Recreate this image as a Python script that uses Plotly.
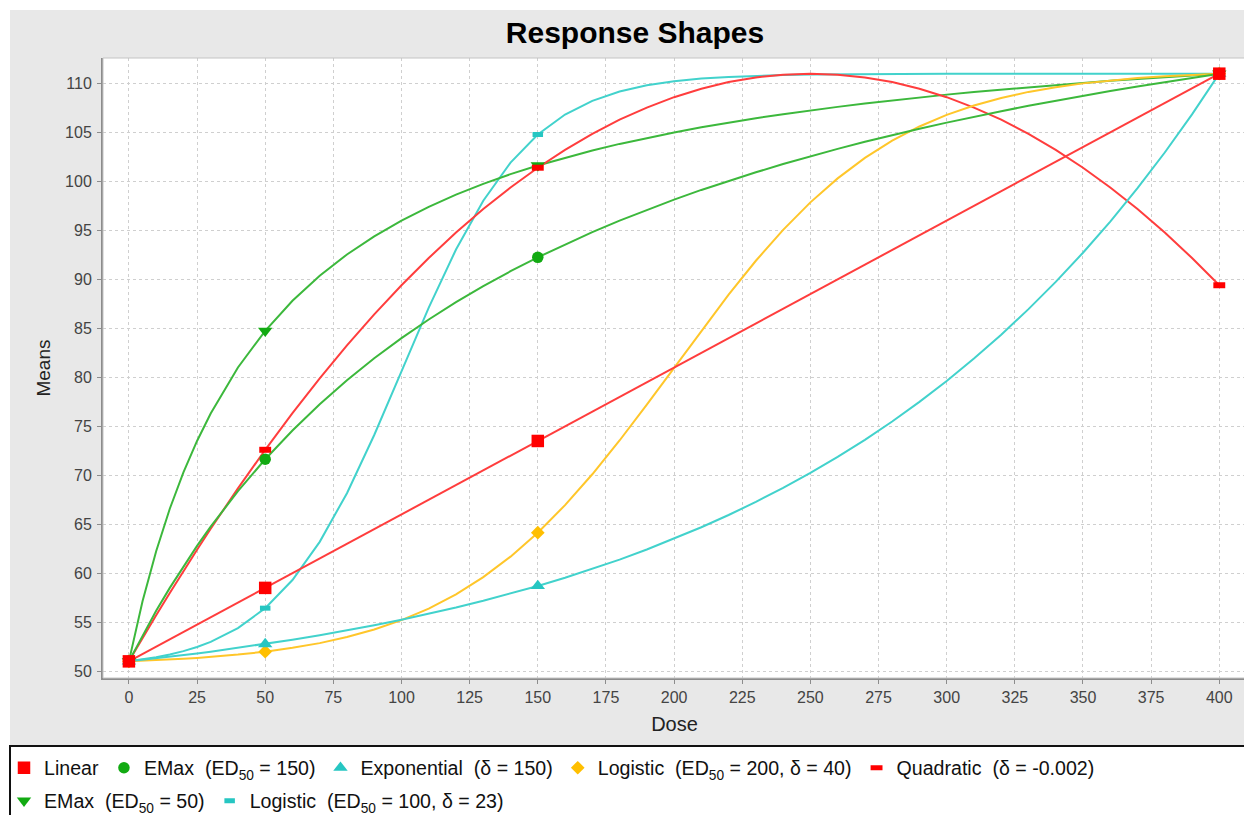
import plotly.graph_objects as go

# ---------------- data ----------------
dose = [0, 5, 10, 15, 20, 25, 30, 40, 50, 60, 70, 80, 90, 100, 110, 120, 130, 140, 150,
        160, 170, 180, 190, 200, 210, 220, 230, 240, 250, 260, 270, 280, 290, 300,
        310, 320, 330, 340, 350, 360, 370, 380, 390, 400]

linear = [51.0, 51.75, 52.5, 53.25, 54.0, 54.75, 55.5, 57.0, 58.5, 60.0, 61.5, 63.0, 64.5,
          66.0, 67.5, 69.0, 70.5, 72.0, 73.5, 75.0, 76.5, 78.0, 79.5, 81.0, 82.5, 84.0,
          85.5, 87.0, 88.5, 90.0, 91.5, 93.0, 94.5, 96.0, 97.5, 99.0, 100.5, 102.0, 103.5,
          105.0, 106.5, 108.0, 109.5, 111.0]

emax150 = [51.0, 53.66, 56.16, 58.5, 60.71, 62.79, 64.75, 68.37, 71.63, 74.57, 77.25, 79.7,
           81.94, 84.0, 85.9, 87.67, 89.3, 90.83, 92.25, 93.58, 94.83, 96.0, 97.1, 98.14,
           99.13, 100.05, 100.93, 101.77, 102.56, 103.32, 104.04, 104.72, 105.38, 106.0,
           106.6, 107.17, 107.72, 108.24, 108.75, 109.24, 109.7, 110.15, 110.58, 111.0]

exponential = [51.0, 51.15, 51.31, 51.47, 51.64, 51.81, 51.99, 52.37, 52.77, 53.2, 53.66,
               54.16, 54.68, 55.25, 55.85, 56.49, 57.18, 57.91, 58.7, 59.54, 60.43, 61.39,
               62.42, 63.52, 64.69, 65.94, 67.28, 68.71, 70.24, 71.88, 73.62, 75.49, 77.49,
               79.62, 81.91, 84.35, 86.96, 89.74, 92.72, 95.9, 99.31, 102.95, 106.84, 111.0]

logistic200 = [51.0, 51.05, 51.11, 51.18, 51.26, 51.35, 51.45, 51.69, 51.99, 52.38, 52.86,
               53.48, 54.25, 55.21, 56.39, 57.84, 59.6, 61.69, 64.14, 66.95, 70.1, 73.55,
               77.22, 81.0, 84.78, 88.45, 91.9, 95.05, 97.86, 100.31, 102.4, 104.16, 105.61,
               106.79, 107.75, 108.52, 109.14, 109.62, 110.01, 110.31, 110.55, 110.74,
               110.89, 111.0]

quadratic = [51.0, 53.38, 55.7, 57.98, 60.22, 62.4, 64.54, 68.66, 72.6, 76.34, 79.9, 83.26,
             86.42, 89.4, 92.18, 94.78, 97.18, 99.38, 101.4, 103.22, 104.86, 106.3, 107.54,
             108.6, 109.46, 110.14, 110.62, 110.9, 111.0, 110.9, 110.62, 110.14, 109.46,
             108.6, 107.54, 106.3, 104.86, 103.22, 101.4, 99.38, 97.18, 94.78, 92.18, 89.4]

emax50 = [51.0, 57.14, 62.25, 66.58, 70.29, 73.5, 76.31, 81.0, 84.75, 87.82, 90.38, 92.54,
          94.39, 96.0, 97.41, 98.65, 99.75, 100.74, 101.63, 102.43, 103.16, 103.83, 104.44,
          105.0, 105.52, 106.0, 106.45, 106.86, 107.25, 107.61, 107.95, 108.27, 108.57,
          108.86, 109.13, 109.38, 109.62, 109.85, 110.06, 110.27, 110.46, 110.65, 110.83,
          111.0]

logistic100 = [51.0, 51.19, 51.41, 51.7, 52.04, 52.47, 52.99, 54.39, 56.43, 59.3, 63.2,
               68.17, 74.11, 80.61, 87.12, 93.05, 98.03, 101.92, 104.79, 106.83, 108.23,
               109.18, 109.81, 110.22, 110.5, 110.67, 110.79, 110.86, 110.91, 110.94, 110.96,
               110.98, 110.98, 110.99, 110.99, 110.99, 111.0, 111.0, 111.0, 111.0, 111.0,
               111.0, 111.0, 111.0]

design_doses = [0, 50, 150, 400]

series_names = [
    "Linear",
    "EMax\u00a0 (ED<sub>50</sub> = 150)",
    "Exponential\u00a0 (\u03b4 = 150)",
    "Logistic\u00a0 (ED<sub>50</sub> = 200, \u03b4 = 40)",
    "Quadratic\u00a0 (\u03b4 = -0.002)",
    "EMax\u00a0 (ED<sub>50</sub> = 50)",
    "Logistic\u00a0 (ED<sub>50</sub> = 100, \u03b4 = 23)",
]
series_values = [linear, emax150, exponential, logistic200, quadratic, emax50, logistic100]
legend_row = [1, 1, 1, 1, 1, 2, 2]

x_ticks = list(range(0, 401, 25))
y_ticks = list(range(50, 111, 5))

# ---------------- styles ----------------
line_colors = ["#ff3d3d", "#3cb83c", "#42d2cc", "#ffc62a", "#ff3d3d", "#3cb83c", "#42d2cc"]
marker_colors = ["#ff0000", "#12aa12", "#26c6c2", "#ffbf00", "#ff0000", "#12aa12", "#26c6c2"]
marker_symbols = ["square", "circle", "triangle-up", "diamond", "line-ew", "triangle-down", "line-ew"]
marker_sizes = [12.5, 11.5, 12.5, 10.5, 8.5, 12.5, 7.5]
marker_lw = [0, 0, 0, 0, 6, 0, 5]

OFF = 8                      # page offset of the plot div
W, H = 1252 - OFF, 815 - OFF
PL, PR, PT, PB = 103 - OFF, 1246 - OFF, 58 - OFF, 678 - OFF  # plot area (figure pixels)


def px_x(p):  # reference-screen pixel -> paper x
    return (p - OFF - PL) / (PR - PL)


def px_y(p):  # reference-screen pixel -> paper y
    return (PB - (p - OFF)) / (PB - PT)


FONT = "Liberation Sans, Arial, sans-serif"

fig = go.Figure()

# lines (series 0 drawn last -> on top)
for i in reversed(range(len(series_values))):
    fig.add_trace(go.Scatter(
        x=dose, y=series_values[i], mode="lines",
        line=dict(color=line_colors[i], width=2),
        showlegend=False, hoverinfo="skip",
    ))

# markers at the design doses
idx = [dose.index(d) for d in design_doses]
for i in reversed(range(len(series_values))):
    fig.add_trace(go.Scatter(
        x=[dose[k] for k in idx], y=[series_values[i][k] for k in idx],
        mode="markers", name=series_names[i], legendrank=i + 1,
        legend="legend" if legend_row[i] == 1 else "legend2",
        marker=dict(symbol=marker_symbols[i], size=marker_sizes[i],
                    color=marker_colors[i],
                    line=dict(color=marker_colors[i], width=marker_lw[i])),
    ))

shapes = [
    # grey chart panel
    dict(type="rect", xref="paper", yref="paper", layer="below",
         x0=px_x(10), x1=px_x(1260), y0=px_y(745), y1=px_y(10),
         fillcolor="#e8e8e8", line=dict(width=0)),
    # white plot area
    dict(type="rect", xref="paper", yref="paper", layer="below",
         x0=0, x1=1, y0=0, y1=1, fillcolor="#ffffff", line=dict(width=0)),
    # legend box
    dict(type="rect", xref="paper", yref="paper", layer="below",
         x0=px_x(10), x1=px_x(1262), y0=px_y(830), y1=px_y(746),
         fillcolor="#ffffff", line=dict(color="#111111", width=2)),
    # light plot outline
    dict(type="rect", xref="paper", yref="paper", layer="above",
         x0=0, x1=1, y0=0, y1=1, line=dict(color="#c4c4c4", width=1)),
]

axis_common = dict(
    showgrid=True, gridcolor="#cfcfcf", gridwidth=1, griddash="3px,3px",
    zeroline=False, showline=True, linecolor="#8c8c8c", linewidth=2,
    ticks="outside", ticklen=4, tickcolor="#8c8c8c",
    tickfont=dict(family=FONT, size=16, color="#444444"),
)

legend_common = dict(orientation="h", xanchor="left", yanchor="middle",
                     bgcolor="rgba(0,0,0,0)", borderwidth=0,
                     font=dict(family=FONT, size=19.6, color="#111111"),
                     itemsizing="trace")

fig.update_layout(
    width=W, height=H,
    margin=dict(l=PL, r=W - PR, t=PT, b=H - PB, pad=0, autoexpand=False),
    paper_bgcolor="#ffffff", plot_bgcolor="#ffffff",
    title=dict(text="<b>Response Shapes</b>", x=(635 - OFF) / W, xanchor="center",
               y=1 - (32 - OFF) / H, yanchor="middle", xref="container", yref="container",
               font=dict(family=FONT, size=30, color="#000000")),
    xaxis=dict(range=[-9.5, 409.8], tickvals=x_ticks, ticklabelstandoff=0, **axis_common,
               title=dict(text="Dose", standoff=12,
                          font=dict(family=FONT, size=20, color="#222222"))),
    yaxis=dict(range=[49.3, 112.6], tickvals=y_ticks, ticklabelstandoff=2, **axis_common,
               title=dict(text="Means", standoff=9,
                          font=dict(family=FONT, size=19, color="#222222"))),
    legend=dict(x=px_x(4), y=px_y(768), **legend_common),
    legend2=dict(x=px_x(4), y=px_y(801), **legend_common),
    shapes=shapes,
    showlegend=True,
)

fig.write_html("out.html")
